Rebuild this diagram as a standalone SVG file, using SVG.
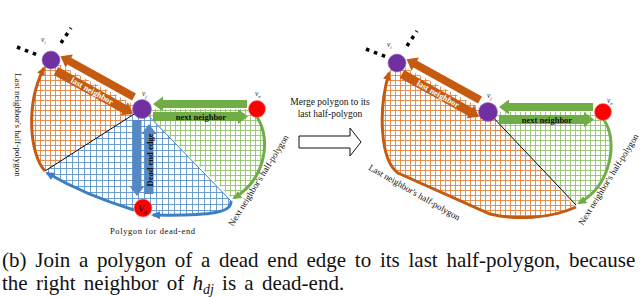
<svg xmlns="http://www.w3.org/2000/svg" width="640" height="297" viewBox="0 0 640 297">
<style>
.lbl{font-family:"Liberation Serif",serif;font-style:italic;font-size:7.5px;fill:#333}
.sub{font-size:5px}
.ser{font-family:"Liberation Serif",serif;fill:#111}
.bold{font-family:"Liberation Serif",serif;font-weight:bold;font-size:8.5px;text-anchor:middle}
.purple{fill:#7030A0;stroke:#9b6cc4;stroke-width:0.6}
.red{fill:#FF0000;stroke:#ff8080;stroke-width:0.6}
.dots{stroke:#000;stroke-width:3.5;stroke-dasharray:3.5 5}
.oc{fill:none;stroke:#C55A11;stroke-width:3}
.gc{fill:none;stroke:#70AD47;stroke-width:3}
.bc{fill:none;stroke:#3F7FC1;stroke-width:3}
.oa{fill:#C55A11}
.ga{fill:#70AD47}
.ba{fill:#5489C4}
</style>
<defs>
<pattern id="gO" width="5" height="5" patternUnits="userSpaceOnUse"><rect width="5" height="5" fill="#fff"/><path d="M0,0.5H5M0.5,0V5" stroke="#E3833F" stroke-width="0.9"/></pattern>
<pattern id="gB" width="6" height="6" patternUnits="userSpaceOnUse"><rect width="6" height="6" fill="#fff"/><path d="M0,0.5H6M0.5,0V6" stroke="#5E95CE" stroke-width="0.9"/></pattern>
<pattern id="gG" width="5" height="5" patternUnits="userSpaceOnUse"><rect width="5" height="5" fill="#fff"/><path d="M0,0.5H5M0.5,0V5" stroke="#92C46E" stroke-width="0.9"/></pattern>
<marker id="mO" viewBox="0 0 9 8" refX="7" refY="4" markerWidth="9" markerHeight="8" markerUnits="userSpaceOnUse" orient="auto"><path d="M0,0L9,4L0,8Z" fill="#C55A11"/></marker>
<marker id="mG" viewBox="0 0 9 8" refX="7" refY="4" markerWidth="9" markerHeight="8" markerUnits="userSpaceOnUse" orient="auto"><path d="M0,0L9,4L0,8Z" fill="#70AD47"/></marker>
<marker id="mB" viewBox="0 0 9 8" refX="7" refY="4" markerWidth="9" markerHeight="8" markerUnits="userSpaceOnUse" orient="auto"><path d="M0,0L9,4L0,8Z" fill="#3F7FC1"/></marker>
</defs>

<g id="fills">
<path d="M51,60 L142,109 L45,171 C30,155 25,105 44,68 Z" fill="url(#gO)"/>
<path d="M45,171 L142,109 L231,201 C232,212 215,216 152,215 L143,208 L134,210 Q85,195 45,172 Z" fill="url(#gB)"/>
<path d="M142,109 L257,109 L257,117 C272,140 265,180 233,199 Z" fill="url(#gG)"/>
<path d="M397,63 L488,112 L575,206 C550,219 515,220 490,214 L398,173 C380,160 378,110 389,72 Z" fill="url(#gO)"/>
<path d="M488,112 L603,112 L604,120 C618,140 612,185 578,204 L576,206 Z" fill="url(#gG)"/>
</g>

<g id="connectors">
<line x1="45" y1="171" x2="142" y2="109" stroke="#000" stroke-width="1"/>
<line x1="142" y1="109" x2="231" y2="201" stroke="#3F7FC1" stroke-width="1"/>
<line x1="488" y1="112" x2="576" y2="205" stroke="#000" stroke-width="1"/>
<path class="oc" d="M45,171 C30,155 25,105 44,68" marker-end="url(#mO)"/>
<path class="bc" d="M134,210 Q85,195 47,173" marker-end="url(#mB)"/>
<path class="bc" d="M231,201 C232,212 215,216 153,215" marker-end="url(#mB)"/>
<path class="gc" d="M257,117 C272,140 265,180 234,198" marker-end="url(#mG)"/>
<path class="oc" d="M576,207 C550,219 515,220 490,214 L398,173 C380,160 378,110 389,73" marker-end="url(#mO)"/>
<path class="gc" d="M604,120 C618,140 612,185 579,203" marker-end="url(#mG)"/>
<line class="dots" x1="17" y1="47" x2="40" y2="56"/>
<line class="dots" x1="61" y1="43" x2="71" y2="28"/>
<line class="dots" x1="366" y1="49" x2="389" y2="58"/>
<line class="dots" x1="407" y1="46" x2="417" y2="31"/>
<path class="oa" transform="translate(134,97) rotate(209)" d="M0,-4H74V-7.5L84,0L74,7.5V4H0Z"/>
<path class="oa" transform="translate(56,71) rotate(29)" d="M0,-4.5H78V-7.5L88,0L78,7.5V4.5H0Z"/>
<path class="ga" transform="translate(247,104) rotate(180)" d="M0,-4H84V-7.5L94,0L84,7.5V4H0Z"/>
<path class="ga" transform="translate(153,116.5)" d="M0,-4.5H85V-7.5L95,0L85,7.5V4.5H0Z"/>
<path class="ba" transform="translate(137,120) rotate(90)" d="M0,-4.5H66V-7.5L76,0L66,7.5V4.5H0Z"/>
<path class="ba" transform="translate(149,194) rotate(-90)" d="M0,-4.5H60V-7.5L70,0L60,7.5V4.5H0Z"/>
<path class="oa" transform="translate(480,100) rotate(209)" d="M0,-4H74V-7.5L84,0L74,7.5V4H0Z"/>
<path class="oa" transform="translate(402,74) rotate(29)" d="M0,-4.5H78V-7.5L88,0L78,7.5V4.5H0Z"/>
<path class="ga" transform="translate(593,107) rotate(180)" d="M0,-4H84V-7.5L94,0L84,7.5V4H0Z"/>
<path class="ga" transform="translate(499,119.5)" d="M0,-4.5H85V-7.5L95,0L85,7.5V4.5H0Z"/>
<text class="bold" fill="#fff" font-size="8" transform="translate(92,91) rotate(29)" y="2.8">last neighbor</text>
<text class="bold" fill="#111" x="201" y="119.5">next neighbor</text>
<text class="bold" fill="#111" transform="translate(150,160) rotate(-90)" y="3">Dead end edge</text>
<text class="bold" fill="#fff" font-size="8" transform="translate(438,94) rotate(29)" y="2.8">last neighbor</text>
<text class="bold" fill="#111" x="547" y="122.5">next neighbor</text>
</g>

<g id="node-vi-left"><circle class="purple" cx="51" cy="60" r="9"/><text class="lbl" x="41" y="42">v<tspan class="sub" dy="1.5">i</tspan></text></g>
<g id="node-vj-left"><circle class="purple" cx="142" cy="109" r="9.5"/><text class="lbl" x="142" y="96">v<tspan class="sub" dy="1.5">j</tspan></text></g>
<g id="node-vn-left"><circle class="red" cx="257" cy="109" r="8.5"/><text class="lbl" x="255" y="96">v<tspan class="sub" dy="1.5">n</tspan></text></g>
<g id="node-vd-left"><circle class="red" cx="143" cy="208" r="9"/><text class="ser" font-style="italic" font-size="10" x="138" y="212">V<tspan font-size="6" dy="2">d</tspan></text></g>
<g id="node-vi-right"><circle class="purple" cx="397" cy="63" r="9"/><text class="lbl" x="387" y="47">v<tspan class="sub" dy="1.5">i</tspan></text></g>
<g id="node-vj-right"><circle class="purple" cx="488" cy="112" r="9.5"/><text class="lbl" x="487" y="98">v<tspan class="sub" dy="1.5">j</tspan></text></g>
<g id="node-vn-right"><circle class="red" cx="603" cy="112" r="8.5"/><text class="lbl" x="607" y="103">v<tspan class="sub" dy="1.5">n</tspan></text></g>

<g id="texts">
<text class="ser" font-size="9" text-anchor="middle" transform="translate(15,125) rotate(90)">Last neighbor's half-polygon</text>
<text class="ser" font-size="9" text-anchor="middle" transform="translate(261,182) rotate(-58)">Next neighbor's half-polygon</text>
<text class="ser" font-size="9" text-anchor="middle" transform="translate(611,181) rotate(-58)">Next neighbor's half-polygon</text>
<text class="ser" font-size="9" text-anchor="middle" transform="translate(413,195) rotate(29.7)">Last neighbor's half-polygon</text>
<text class="ser" font-size="8.5" x="110" y="234" textLength="85">Polygon for dead-end</text>
<text class="ser" font-size="9.5" text-anchor="middle" x="330" y="105">Merge polygon to its</text>
<text class="ser" font-size="9.5" text-anchor="middle" x="330" y="117">last half-polygon</text>
</g>

<g id="merge-arrow"><path d="M299,136 H350 V128 L361,142 L350,156 V148 H299 Z" fill="#fff" stroke="#111" stroke-width="1"/></g>

<g id="caption" font-family="'Liberation Serif','Times New Roman',serif" font-size="21" fill="#111">
<text x="2" y="267" word-spacing="3.5">(b) Join a polygon of a dead end edge to its last half-polygon, because</text>
<text x="2" y="290" word-spacing="3">the right neighbor of <tspan font-style="italic">h</tspan><tspan font-style="italic" font-size="14" dy="4">dj</tspan><tspan dy="-4"> is a dead-end.</tspan></text>
</g>
</svg>
